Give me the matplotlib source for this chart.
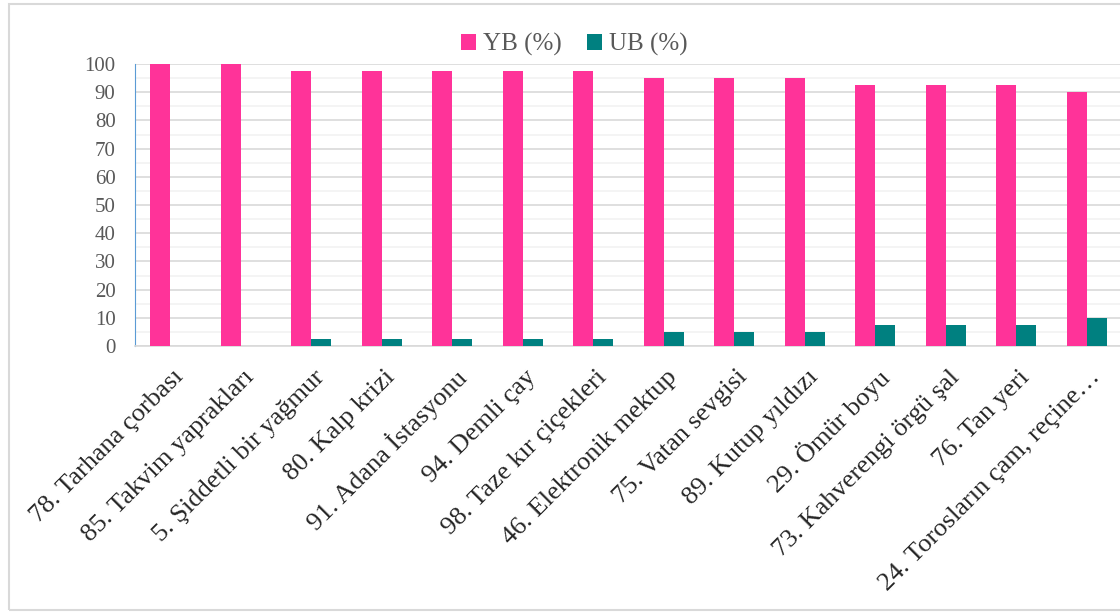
import numpy as np
import matplotlib.pyplot as plt
from matplotlib.patches import Rectangle
from matplotlib.ticker import MultipleLocator
from matplotlib.transforms import ScaledTranslation

# ============ Data ===================
items = ["78. Tarhana çorbası", "85. Takvim yaprakları", "5. Şiddetli bir yağmur",
         "80. Kalp krizi", "91. Adana İstasyonu", "94. Demli çay",
         "98. Taze kır çiçekleri", "46. Elektronik mektup", "75. Vatan sevgisi",
         "89. Kutup yıldızı", "29. Ömür boyu", "73. Kahverengi örgü şal",
         "76. Tan yeri", "24. Torosların çam, reçine…"]
yb = [100, 100, 97.5, 97.5, 97.5, 97.5, 97.5, 95, 95, 95, 92.5, 92.5, 92.5, 90]
ub = [0, 0, 2.5, 2.5, 2.5, 2.5, 2.5, 5, 5, 5, 7.5, 7.5, 7.5, 10]
leglabel = ["YB (%)", "UB (%)"]
# =====================================

plt.rcParams['font.family'] = ['Liberation Serif', 'DejaVu Serif']

fig = plt.figure(figsize=(11.2, 6.13), dpi=100)
ax = fig.add_axes([135/1120, 1 - 346/613, 987/1120, 282/613])

x = np.arange(len(items))
w = 0.284
ax.bar(x - w/2, yb, w, color='#FF3399', label=leglabel[0], zorder=3)
ax.bar(x + w/2, ub, w, color='#008080', label=leglabel[1], zorder=3)

ax.set_xlim(-0.5, len(items) - 0.5)
ax.set_ylim(0, 100)
ax.yaxis.set_major_locator(MultipleLocator(10))
ax.yaxis.set_minor_locator(MultipleLocator(5))
ax.grid(axis='y', which='major', color='#D9D9D9', lw=1.2, zorder=0)
ax.grid(axis='y', which='minor', color='#F2F2F2', lw=1.2, zorder=0)

for s in ['top', 'right']:
    ax.spines[s].set_visible(False)
ax.spines['left'].set_color('#5B9BD5')
ax.spines['bottom'].set_color('#D9D9D9')
ax.spines['bottom'].set_linewidth(1.2)

ax.tick_params(axis='y', which='both', length=0, labelsize=15, labelcolor='#595959', pad=14)
ax.tick_params(axis='x', length=0, pad=20)
ax.set_xticks(x)
ax.set_xticklabels(items, rotation=45, ha='right', va='center', rotation_mode='anchor',
                   fontsize=19, color='#262626')
# nudge rotated labels a little to the right
shift = ScaledTranslation(10/100, 0, fig.dpi_scale_trans)
for lbl in ax.get_xticklabels():
    lbl.set_transform(lbl.get_transform() + shift)

ax.legend(loc='lower center', bbox_to_anchor=(0.445, 0.975), ncol=2, frameon=False,
          fontsize=18, labelcolor='#595959', handlelength=0.6, handleheight=0.6,
          handletextpad=0.3, columnspacing=1.0, borderaxespad=0.2)

# outer chart border
fig.patches.append(Rectangle((9/1120, 3/613), 1.2, 1 - 7/613, transform=fig.transFigure,
                             fill=False, edgecolor='#D9D9D9', lw=1.5))

plt.savefig('out.png', dpi=100)
